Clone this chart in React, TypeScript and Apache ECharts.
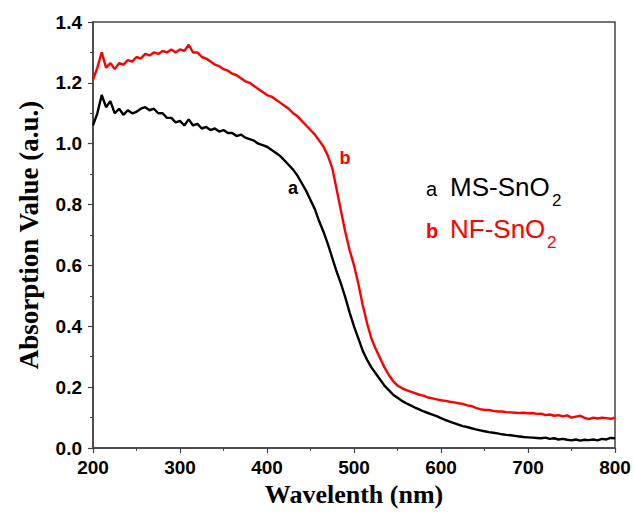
import React, { useEffect, useRef } from "react";
import * as echarts from "echarts";

const wavelengths = [
  200, 205, 210, 215, 220, 225, 230, 235, 240, 245, 250, 255, 260, 265, 270, 275, 280, 285, 290, 295,
  300, 305, 310, 315, 320, 325, 330, 335, 340, 345, 350, 355, 360, 365, 370, 375, 380, 385, 390, 395,
  400, 405, 410, 415, 420, 425, 430, 435, 440, 445, 450, 455, 460, 465, 470, 475, 480, 485, 490, 495,
  500, 505, 510, 515, 520, 525, 530, 535, 540, 545, 550, 555, 560, 565, 570, 575, 580, 585, 590, 595,
  600, 605, 610, 615, 620, 625, 630, 635, 640, 645, 650, 655, 660, 665, 670, 675, 680, 685, 690, 695,
  700, 705, 710, 715, 720, 725, 730, 735, 740, 745, 750, 755, 760, 765, 770, 775, 780, 785, 790, 795,
  800,
];

const msSnO2 = [
  1.06, 1.10, 1.16, 1.12, 1.14, 1.10, 1.115, 1.095, 1.11, 1.10, 1.105, 1.115, 1.12, 1.11, 1.115, 1.10, 1.10, 1.085, 1.085, 1.07,
  1.075, 1.06, 1.08, 1.06, 1.065, 1.05, 1.055, 1.045, 1.05, 1.04, 1.045, 1.035, 1.035, 1.025, 1.03, 1.02, 1.015, 1.01, 1.0, 0.995,
  0.99, 0.98, 0.97, 0.96, 0.945, 0.93, 0.915, 0.895, 0.87, 0.845, 0.815, 0.785, 0.745, 0.71, 0.67, 0.625, 0.58, 0.54, 0.495, 0.445,
  0.40, 0.36, 0.32, 0.29, 0.265, 0.245, 0.225, 0.205, 0.19, 0.175, 0.165, 0.155, 0.147, 0.14, 0.133, 0.127, 0.12, 0.115, 0.11, 0.105,
  0.098, 0.092, 0.087, 0.082, 0.077, 0.072, 0.069, 0.065, 0.061, 0.058, 0.055, 0.052, 0.05, 0.048, 0.045, 0.043, 0.042, 0.04, 0.038, 0.036,
  0.035, 0.034, 0.033, 0.032, 0.034, 0.03, 0.032, 0.028, 0.03, 0.027, 0.025, 0.028, 0.024, 0.027, 0.026, 0.028, 0.025, 0.03, 0.028, 0.033,
  0.032,
];

const nfSnO2 = [
  1.21, 1.25, 1.30, 1.25, 1.265, 1.245, 1.265, 1.26, 1.275, 1.27, 1.285, 1.28, 1.295, 1.29, 1.30, 1.295, 1.305, 1.30, 1.31, 1.30,
  1.31, 1.305, 1.325, 1.30, 1.30, 1.285, 1.28, 1.27, 1.26, 1.255, 1.245, 1.24, 1.23, 1.225, 1.215, 1.205, 1.20, 1.19, 1.18, 1.17,
  1.16, 1.155, 1.145, 1.135, 1.125, 1.115, 1.10, 1.09, 1.075, 1.06, 1.045, 1.03, 1.01, 0.99, 0.96, 0.92, 0.85, 0.78, 0.71, 0.65,
  0.60, 0.54, 0.47, 0.41, 0.36, 0.325, 0.295, 0.265, 0.24, 0.22, 0.205, 0.197, 0.19, 0.185, 0.18, 0.175, 0.172, 0.166, 0.163, 0.16,
  0.157, 0.155, 0.152, 0.15, 0.147, 0.145, 0.14, 0.138, 0.132, 0.128, 0.125, 0.125, 0.122, 0.12, 0.12, 0.118, 0.117, 0.116, 0.115, 0.116,
  0.114, 0.115, 0.112, 0.113, 0.108, 0.11, 0.106, 0.108, 0.104, 0.107, 0.10, 0.103, 0.106, 0.099, 0.095, 0.1, 0.097, 0.1, 0.098, 0.096,
  0.1,
];

const seriesNames = ["MS-SnO2", "NF-SnO2"];
const seriesKeys = ["a", "b"];
const seriesColors = ["#000000", "#ff0000"];

const SANS = "Arial, 'Liberation Sans', sans-serif";
const SERIF = "'Times New Roman', 'Liberation Serif', serif";

export default function App() {
  const ref = useRef<HTMLDivElement>(null);

  useEffect(() => {
    if (!ref.current) return;
    const chart = echarts.init(ref.current, null, { renderer: "svg" });
    const pairs = (vals: number[]) => wavelengths.map((w, i) => [w, vals[i]]);
    const axisColor = "#444";

    chart.setOption({
      animation: false,
      backgroundColor: "#ffffff",
      grid: {
        left: 93,
        top: 22,
        width: 522,
        height: 426,
        show: true,
        borderColor: axisColor,
        borderWidth: 1.5,
        backgroundColor: "transparent",
      },
      xAxis: {
        type: "value",
        min: 200,
        max: 800,
        interval: 100,
        name: "Wavelenth (nm)",
        nameLocation: "middle",
        nameGap: 33,
        nameTextStyle: { fontFamily: SERIF, fontWeight: "bold", fontSize: 26, color: "#000" },
        axisLine: { show: true, lineStyle: { color: axisColor, width: 1.5 } },
        axisTick: { show: true, inside: false, length: 5, lineStyle: { color: axisColor, width: 1.2 } },
        minorTick: { show: true, splitNumber: 2, length: 3, lineStyle: { color: axisColor, width: 1 } },
        splitLine: { show: false },
        axisLabel: { fontFamily: SANS, fontWeight: "bold", fontSize: 19, color: "#000", margin: 10 },
      },
      yAxis: {
        type: "value",
        min: 0,
        max: 1.4,
        interval: 0.2,
        name: "Absorption Value (a.u.)",
        nameLocation: "middle",
        nameGap: 51,
        nameTextStyle: { fontFamily: SERIF, fontWeight: "bold", fontSize: 27, color: "#000" },
        axisLine: { show: true, lineStyle: { color: axisColor, width: 1.5 } },
        axisTick: { show: true, inside: false, length: 5, lineStyle: { color: axisColor, width: 1.2 } },
        minorTick: { show: true, splitNumber: 2, length: 3, lineStyle: { color: axisColor, width: 1 } },
        splitLine: { show: false },
        axisLabel: {
          fontFamily: SANS,
          fontWeight: "bold",
          fontSize: 19,
          color: "#000",
          margin: 11,
          formatter: (v: number) => v.toFixed(1),
        },
      },
      series: seriesNames.map((name, i) => ({
        name,
        type: "line",
        data: pairs(i === 0 ? msSnO2 : nfSnO2),
        showSymbol: false,
        symbol: "none",
        lineStyle: { color: seriesColors[i], width: 2.4 },
        itemStyle: { color: seriesColors[i] },
        z: i === 0 ? 3 : 2,
      })),
      graphic: [
        {
          type: "text",
          x: 293,
          y: 188,
          style: { text: seriesKeys[0], fill: seriesColors[0], font: `bold 18px ${SANS}`, align: "center", verticalAlign: "middle" },
        },
        {
          type: "text",
          x: 345,
          y: 158,
          style: { text: seriesKeys[1], fill: seriesColors[1], font: `bold 18px ${SANS}`, align: "center", verticalAlign: "middle" },
        },
        {
          type: "text",
          x: 426,
          y: 189,
          style: { text: seriesKeys[0], fill: seriesColors[0], font: `20px ${SANS}`, align: "left", verticalAlign: "middle" },
        },
        {
          type: "text",
          x: 450,
          y: 187,
          style: { text: "MS-SnO", fill: seriesColors[0], font: `26px ${SANS}`, align: "left", verticalAlign: "middle" },
        },
        {
          type: "text",
          x: 552,
          y: 200,
          style: { text: "2", fill: seriesColors[0], font: `17px ${SANS}`, align: "left", verticalAlign: "middle" },
        },
        {
          type: "text",
          x: 426,
          y: 231,
          style: { text: seriesKeys[1], fill: seriesColors[1], font: `bold 20px ${SANS}`, align: "left", verticalAlign: "middle" },
        },
        {
          type: "text",
          x: 450,
          y: 229,
          style: { text: "NF-SnO", fill: seriesColors[1], font: `26px ${SANS}`, align: "left", verticalAlign: "middle" },
        },
        {
          type: "text",
          x: 547,
          y: 242,
          style: { text: "2", fill: seriesColors[1], font: `17px ${SANS}`, align: "left", verticalAlign: "middle" },
        },
      ],
    });

    return () => chart.dispose();
  }, []);

  return (
    <div
      ref={ref}
      style={{ position: "fixed", left: 0, top: 0, width: 634, height: 514, background: "#fff" }}
    />
  );
}
